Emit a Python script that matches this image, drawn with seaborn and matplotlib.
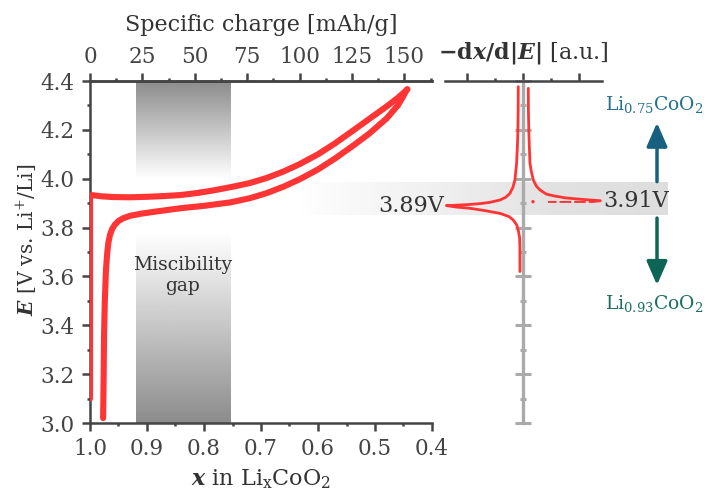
import numpy as np
import matplotlib
matplotlib.use("Agg")
import matplotlib.pyplot as plt
import seaborn as sns
from matplotlib.ticker import MultipleLocator

# ---- galvanostatic cycle of LiCoO2: x in LixCoO2 vs potential E [V] ----
charge_x = [1.000, 1.000, 0.997, 0.980, 0.960, 0.930, 0.900, 0.870, 0.842, 0.810,
            0.784, 0.750, 0.720, 0.690, 0.660, 0.632, 0.600, 0.570, 0.538, 0.510,
            0.4795, 0.460, 0.443]
charge_E = [3.10, 3.925, 3.933, 3.928, 3.925, 3.924, 3.926, 3.929, 3.933, 3.942,
            3.952, 3.967, 3.982, 4.003, 4.030, 4.060, 4.100, 4.145, 4.198, 4.245,
            4.296, 4.331, 4.366]

discharge_x = [0.444, 0.451, 0.460, 0.4795, 0.510, 0.538, 0.570, 0.600, 0.632, 0.660,
               0.690, 0.720, 0.754, 0.800, 0.842, 0.880, 0.910, 0.930, 0.942, 0.950,
               0.956, 0.961, 0.965, 0.968, 0.970, 0.972, 0.974, 0.9754, 0.976, 0.977]
discharge_E = [4.366, 4.335, 4.300, 4.247, 4.185, 4.136, 4.083, 4.038, 3.998, 3.968,
               3.941, 3.920, 3.903, 3.889, 3.879, 3.867, 3.857, 3.848, 3.838, 3.827,
               3.813, 3.795, 3.770, 3.735, 3.690, 3.626, 3.500, 3.353, 3.200, 3.020]

# ---- differential capacity -dx/d|E| (arbitrary units) ----
dq_charge_val = [0.096, 0.098, 0.105, 0.115, 0.126, 0.150, 0.186, 0.240, 0.306, 0.420,
                 0.550, 0.750, 0.970, 1.200, 1.390]
dq_charge_E = [4.370, 4.280, 4.200, 4.130, 4.063, 4.030, 3.995, 3.970, 3.954, 3.937,
               3.930, 3.922, 3.917, 3.913, 3.910]
dq_return_val = [1.390, 1.250, 0.450]
dq_return_E = [3.908, 3.905, 3.905]

dq_dis_val = [-0.084, -0.086, -0.090, -0.100, -0.114, -0.144, -0.180, -0.234, -0.310,
              -0.410, -0.600, -0.770, -1.000, -1.256, -1.375, -1.200, -0.955, -0.700,
              -0.410, -0.250, -0.175, -0.110, -0.085, -0.060, -0.055, -0.054]
dq_dis_E = [4.377, 4.280, 4.200, 4.130, 4.063, 3.995, 3.965, 3.940, 3.924,
            3.913, 3.903, 3.898, 3.894, 3.891, 3.890, 3.884, 3.879, 3.870,
            3.858, 3.845, 3.831, 3.810, 3.790, 3.760, 3.720, 3.620]

peak_labels = ["3.89V", "3.91V"]
peak_E = [3.89, 3.91]
x_ticks = [1.0, 0.9, 0.8, 0.7, 0.6, 0.5, 0.4]
E_ticks = [3.0, 3.2, 3.4, 3.6, 3.8, 4.0, 4.2, 4.4]
charge_ticks = [0, 25, 50, 75, 100, 125, 150]

MAH_PER_X = 272.0          # specific charge per unit of extracted Li
GAP = (0.92, 0.755)        # two-phase region
BAND_E = (3.853, 3.985)    # plateau highlight

RED = "#ff3535"
INK = "#444444"
TXT = "#333333"
BLUE = "#17607f"
GREEN = "#0d6655"
FS_TICK = 15.5
FS_LAB = 16

sns.set_theme(style="white")
plt.rcParams["font.family"] = ["DejaVu Serif"]
plt.rcParams["mathtext.fontset"] = "dejavuserif"

W, H = 707, 493
fig = plt.figure(figsize=(W / 100, H / 100), dpi=100, facecolor="white")

bottom, height = 70 / H, 342 / H
bg = fig.add_axes([0, bottom, 1, height], zorder=0)
ax = fig.add_axes([90 / W, bottom, 342 / W, height], zorder=1)
ax2 = fig.add_axes([445 / W, bottom, 157 / W, height], zorder=1)
for a in (ax, ax2):
    a.set_facecolor("none")

# ---- background layer (figure pixels horizontally, potential vertically) ----
bg.set_xlim(0, W)
bg.set_ylim(3.0, 4.4)
bg.axis("off")
bx = np.linspace(300, 668, 400)
alpha = np.clip((bx - 300) / 260, 0, 1) ** 0.8
shade = np.interp(bx, [300, 668], [0.92, 0.87])
rgba = np.zeros((1, bx.size, 4))
rgba[0, :, 0] = rgba[0, :, 1] = rgba[0, :, 2] = shade
rgba[0, :, 3] = alpha
bg.imshow(rgba, extent=(300, 668, BAND_E[0], BAND_E[1]), aspect="auto", zorder=0)

arrow_style = "-|>,head_length=0.8,head_width=0.35"
bg.annotate("", xy=(657, 4.229), xytext=(657, 3.988),
            arrowprops=dict(arrowstyle=arrow_style, color=BLUE, lw=2.5,
                            mutation_scale=18, shrinkA=0, shrinkB=0))
bg.annotate("", xy=(657, 3.565), xytext=(657, 3.839),
            arrowprops=dict(arrowstyle=arrow_style, color=GREEN, lw=2.5,
                            mutation_scale=18, shrinkA=0, shrinkB=0))
bg.text(654, 4.302, r"Li$_{\mathregular{0.75}}$CoO$_{\mathregular{2}}$", color="#25708f",
        fontsize=13.5, ha="center", va="center", clip_on=False)
bg.text(654, 3.491, r"Li$_{\mathregular{0.93}}$CoO$_{\mathregular{2}}$", color="#1b6f5f",
        fontsize=13.5, ha="center", va="center", clip_on=False)

# ---- main panel: potential profile ----
ax.set_xlim(1.0, 0.4)
ax.set_ylim(3.0, 4.4)

E_grid = np.linspace(4.4, 3.0, 300)
levels = np.interp(E_grid, [3.0, 3.78, 4.0, 4.4], [0.55, 1.0, 1.0, 0.55])
ax.imshow(levels[:, None], extent=(GAP[0], GAP[1], 3.0, 4.4), aspect="auto",
          cmap="gray", vmin=0, vmax=1, zorder=0, interpolation="bilinear")
ax.text(np.mean(GAP), 3.605, "Miscibility\ngap", ha="center", va="center",
        fontsize=13.5, color=TXT, linespacing=1.2, zorder=2)

line_kw = dict(sort=False, estimator=None, color=RED, lw=4.4, ax=ax, legend=False,
               solid_capstyle="round", solid_joinstyle="round", zorder=3)
sns.lineplot(x=charge_x, y=charge_E, **line_kw)
sns.lineplot(x=discharge_x, y=discharge_E, **line_kw)

for side in ("top", "bottom", "left"):
    ax.spines[side].set_color(INK)
    ax.spines[side].set_linewidth(1.8)
ax.spines["right"].set_visible(False)
ax.set_xticks(x_ticks)
ax.set_yticks(E_ticks)
ax.xaxis.set_minor_locator(MultipleLocator(0.05))
ax.yaxis.set_minor_locator(MultipleLocator(0.1))
ax.tick_params(which="both", direction="out", color=INK, width=1.8,
               labelcolor=INK, labelsize=FS_TICK, top=False, right=False,
               bottom=True, left=True)
ax.tick_params(which="major", length=6)
ax.tick_params(which="minor", length=2.5)
ax.tick_params(axis="x", pad=5)
ax.tick_params(axis="y", pad=5)

ax.set_xlabel(r"$\mathbfit{x}$ in Li$_{\mathregular{x}}$CoO$_{\mathregular{2}}$",
              fontsize=FS_LAB, color=TXT)
ax.xaxis.set_label_coords(0.5, -0.13)
ax.set_ylabel(r"$\mathbfit{E}$ [V vs. Li$^{+}$/Li]", fontsize=14.5, color=TXT)
ax.yaxis.set_label_coords(-0.15, 0.535)

sec = ax.secondary_xaxis("top", functions=(lambda x: (1 - x) * MAH_PER_X,
                                            lambda c: 1 - c / MAH_PER_X))
sec.set_xticks(charge_ticks)
sec.xaxis.set_minor_locator(MultipleLocator(12.5))
sec.spines["top"].set_color(INK)
sec.spines["top"].set_linewidth(1.8)
sec.tick_params(which="both", direction="out", color=INK, width=1.8,
                labelcolor=INK, labelsize=FS_TICK, pad=3, top=True)
sec.tick_params(which="major", length=6)
sec.tick_params(which="minor", length=2.5)
ax.text(0.5, (423 - 25) / 342, "Specific charge [mAh/g]", transform=ax.transAxes,
        ha="center", va="center", fontsize=FS_LAB, color=TXT)

# ---- right panel: differential capacity ----
ax2.set_xlim(-1.4, 1.42)
ax2.set_ylim(3.0, 4.4)
thin_kw = dict(sort=False, estimator=None, color=RED, lw=2.0, ax=ax2, legend=False,
               zorder=3)
sns.lineplot(x=dq_charge_val, y=dq_charge_E, **thin_kw)
sns.lineplot(x=dq_dis_val, y=dq_dis_E, **thin_kw)
sns.lineplot(x=dq_return_val, y=dq_return_E, sort=False, estimator=None, color=RED,
             lw=1.4, ax=ax2, legend=False, zorder=3, linestyle=(0, (6, 1.5)))
sns.scatterplot(x=[0.18], y=[3.906], color=RED, s=6, ax=ax2, legend=False,
                edgecolor="none", zorder=3)

ax2.text(-1.42, peak_E[0], peak_labels[0], ha="right", va="center", fontsize=FS_LAB,
         color=TXT, clip_on=False)
ax2.text(1.44, peak_E[1], peak_labels[1], ha="left", va="center", fontsize=FS_LAB,
         color=TXT, clip_on=False)

for side in ("right", "bottom"):
    ax2.spines[side].set_visible(False)
ax2.spines["top"].set_color(INK)
ax2.spines["top"].set_linewidth(1.8)
ax2.spines["left"].set_position(("data", 0))
ax2.spines["left"].set_color("#aaaaaa")
ax2.spines["left"].set_linewidth(2.4)
ax2.spines["left"].set_zorder(1)
ax2.xaxis.set_ticks_position("top")
ax2.set_xticks([-1, 0, 1])
ax2.xaxis.set_minor_locator(MultipleLocator(0.5))
ax2.tick_params(axis="x", which="both", direction="out", color=INK, width=1.8,
                top=True, labeltop=False, labelbottom=False, bottom=False)
ax2.tick_params(axis="x", which="major", length=6)
ax2.tick_params(axis="x", which="minor", length=2.5)
ax2.set_yticks(E_ticks)
ax2.yaxis.set_minor_locator(MultipleLocator(0.1))
ax2.tick_params(axis="y", which="both", direction="inout", color="#aaaaaa", width=2.2,
                left=True, labelleft=False, right=False)
ax2.tick_params(axis="y", which="major", length=12)
ax2.tick_params(axis="y", which="minor", length=5)
ax2.text(0.5, (423 - 53) / 342,
         r"$\mathbf{{-}d}\mathbfit{x}\mathbf{/d|}\mathbfit{E}\mathbf{|}$ [a.u.]",
         transform=ax2.transAxes, ha="center", va="center", fontsize=FS_LAB, color=TXT)

fig.savefig("out.png", dpi=100, facecolor="white")
